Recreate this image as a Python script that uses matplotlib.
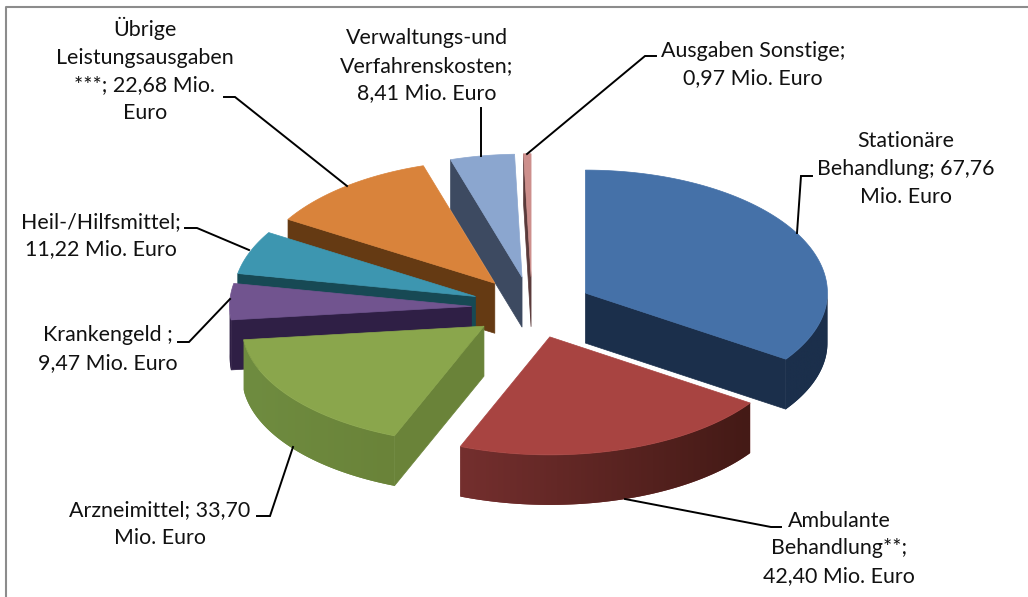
import numpy as np
import matplotlib
matplotlib.use("Agg")
import matplotlib.pyplot as plt
from matplotlib.colors import to_rgb
from matplotlib.patches import Polygon

# clockwise from 12 o'clock, Mio. Euro
categories = ["Stationäre Behandlung", "Ambulante Behandlung**", "Arzneimittel", "Krankengeld",
              "Heil-/Hilfsmittel", "Übrige Leistungsausgaben ***", "Verwaltungs-und Verfahrenskosten",
              "Ausgaben Sonstige"]
values = [67.76, 42.40, 33.70, 9.47, 11.22, 22.68, 8.41, 0.97]
labels = ["Stationäre\nBehandlung; 67,76\nMio. Euro",
          "Ambulante\nBehandlung**;\n42,40 Mio. Euro",
          "Arzneimittel; 33,70\nMio. Euro",
          "Krankengeld ;\n9,47 Mio. Euro",
          "Heil-/Hilfsmittel;\n11,22 Mio. Euro",
          "Übrige\nLeistungsausgaben\n***; 22,68 Mio.\nEuro",
          "Verwaltungs-und\nVerfahrenskosten;\n8,41 Mio. Euro",
          "Ausgaben Sonstige;\n0,97 Mio. Euro"]
top_colors = ["#4571a8", "#a84441", "#8aa64c", "#71548f", "#3d96b0", "#d9833b", "#8ba6cf", "#cd8f8c"]
side_left = ["#1b2f4b", "#742f2e", "#6f8c40", "#2f1f45", "#174954", "#653a13", "#3d4a61", "#5a3a3a"]
side_right = ["#1b2f4b", "#441a16", "#6a8339", "#2f1f45", "#174954", "#653a13", "#3d4a61", "#5a3a3a"]
label_pos = [(906, 169), (839, 548.5), (160, 524), (108, 349), (101, 235.5), (145, 70), (427, 66), (753, 64.5)]
leaders = [[(797, 233), (801, 176), (812, 176)],
           [(625, 499), (771, 527), (781, 527)],
           [(293, 447), (270, 516), (257, 516)],
           [(230, 299), (189, 342), (178, 342)],
           [(249, 250), (197, 228), (185, 228)],
           [(347, 186), (235, 97), (224, 97)],
           [(481, 156), (481, 108)],
           [(527, 154), (645, 56), (656, 56)]]

# pie geometry, in pixels of the picture
CX, CY = 532, 307.5
RX, RY = 242, 123
RY_FRONT = 118  # front half looks a bit flatter in the original
DEPTH = 50
EXPLODE = 0.25

plt.rcParams['font.family'] = ['Lato', 'DejaVu Sans']
fig = plt.figure(figsize=(10.28, 5.97), dpi=100)
ax = fig.add_axes([0, 0, 1, 1])

# only the top and left edge of the frame are in the picture
ax.plot([5.5, 5.5, 1027], [597, 7, 7], color='#8c8c8c', lw=1.5, zorder=0)

fractions = np.array(values) / sum(values)
ends = np.cumsum(fractions) * 2 * np.pi
starts = ends - fractions * 2 * np.pi
order = 1


def rim_point(cx, cy, t):
    c = np.cos(t)
    return cx + RX * np.sin(t), cy - np.where(c > 0, RY, RY_FRONT) * c


def add_face(pts, col):
    global order
    order += 1
    ax.add_patch(Polygon(pts, fc=col, ec=col, lw=0.5, zorder=order))


def draw_slice(i):
    global order
    a, b = starts[i], ends[i]
    mid = (a + b) / 2
    cx = CX + EXPLODE * RX * np.sin(mid)
    cy = CY - EXPLODE * RY * np.cos(mid)
    ts = np.linspace(a, b, 120)
    xs, ys = rim_point(cx, cy, ts)

    # cut faces that look towards the viewer
    for t, visible in ((a, np.sin(a) < 0), (b, np.sin(b) > 0)):
        if visible:
            x, y = rim_point(cx, cy, t)
            col = side_right[i] if i == 2 else side_left[i]
            add_face([(cx, cy), (x, y), (x, y + DEPTH), (cx, cy + DEPTH)], col)

    # outer rim, only the front half shows; gradient clipped to its outline
    front = np.cos(ts) <= 0.02
    if front.sum() > 1:
        fx, fy = xs[front], ys[front]
        outline = list(zip(fx, fy)) + list(zip(fx[::-1], fy[::-1] + DEPTH))
        order += 1
        rim = Polygon(outline, fc=side_left[i], ec='none', zorder=order)
        ax.add_patch(rim)
        ramp = np.linspace(0, 1, 64)[None, :, None]
        grad = np.array(to_rgb(side_left[i])) * (1 - ramp) + np.array(to_rgb(side_right[i])) * ramp
        order += 1
        img = ax.imshow(grad, extent=(fx.min(), fx.max(), fy.max() + DEPTH, fy.min()),
                        aspect='auto', zorder=order, interpolation='bilinear')
        img.set_clip_path(rim)

    # top face
    add_face([(cx, cy)] + list(zip(xs, ys)), top_colors[i])


# back to front
for i in [6, 7, 5, 4, 3, 2, 0, 1]:
    draw_slice(i)

ax.set_xlim(0, 1028)
ax.set_ylim(597, 0)
ax.axis('off')

for pts in leaders:
    ax.plot([p[0] for p in pts], [p[1] for p in pts], color='black', lw=1.4,
            solid_joinstyle='miter', zorder=order + 1)

for text, (x, y) in zip(labels, label_pos):
    ax.text(x, y, text, ha='center', va='center', fontsize=15.4, color='#111111',
            linespacing=1.47, zorder=order + 2)

fig.savefig('out.png', dpi=100)
